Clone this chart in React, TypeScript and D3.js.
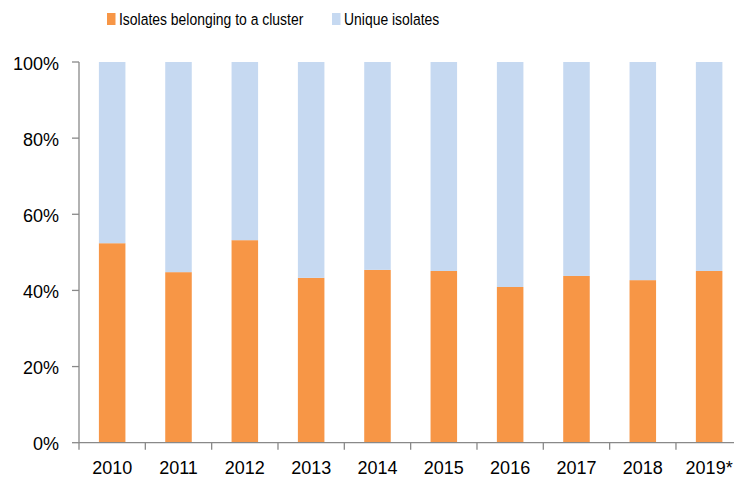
import React from "react";
import * as d3 from "d3";

// share of isolates per year (percent)
const years = ["2010", "2011", "2012", "2013", "2014", "2015", "2016", "2017", "2018", "2019*"];
const clustered = [52.4, 44.8, 53.2, 43.3, 45.4, 45.1, 40.9, 43.8, 42.7, 45.1];
const unique = clustered.map((v) => 100 - v);
const yTicks = [0, 20, 40, 60, 80, 100];
const seriesNames = ["Isolates belonging to a cluster", "Unique isolates"];
const colors = ["#F79646", "#C6D9F1"];

const W = 734;
const H = 478;
const margin = { top: 62, left: 79, bottom: 442.7 };
const font = "'Liberation Sans', Arial, sans-serif";
const squeeze = 0.82; // calibri-ish width for the legend text

export default function App() {
  const x = d3
    .scaleBand<string>()
    .domain(years)
    .range([margin.left, margin.left + 66.33 * years.length])
    .paddingInner(0.6)
    .paddingOuter(0.3);
  const y = d3.scaleLinear().domain([0, 100]).range([margin.bottom, margin.top]);

  const stacked = d3.stack<number>().keys(["a", "b"]).value((i, k) => (k === "a" ? clustered[i] : unique[i]))(
    d3.range(years.length)
  );

  const step = x.step();
  const axisColor = "#898989";

  return (
    <svg width={W} height={H} style={{ position: "absolute", left: 0, top: 0, background: "#fff" }} fontFamily={font}>
      {/* legend */}
      <g fontSize={17} fill="#000">
        <rect x={107} y={13} width={8.5} height={12} fill={colors[0]} />
        <text transform={`translate(119,25) scale(${squeeze},1)`}>{seriesNames[0]}</text>
        <rect x={332} y={13} width={8.5} height={12} fill={colors[1]} />
        <text transform={`translate(344,25) scale(${squeeze},1)`}>{seriesNames[1]}</text>
      </g>

      {/* bars */}
      {stacked.map((layer, li) => (
        <g key={li} fill={colors[li]}>
          {layer.map((d, i) => (
            <rect
              key={i}
              x={x(years[i])}
              y={y(d[1])}
              width={x.bandwidth()}
              height={y(d[0]) - y(d[1])}
            />
          ))}
        </g>
      ))}

      {/* y axis */}
      <line x1={margin.left} x2={margin.left} y1={y(100)} y2={y(0)} stroke={axisColor} strokeWidth={1.3} />
      {yTicks.map((t) => (
        <g key={t}>
          <line x1={margin.left - 7} x2={margin.left} y1={y(t)} y2={y(t)} stroke={axisColor} strokeWidth={1.3} />
          <text x={59} y={y(t) + 7.5} textAnchor="end" fontSize={18} fill="#000">
            {t}%
          </text>
        </g>
      ))}

      {/* x axis */}
      <line x1={margin.left} x2={margin.left + step * years.length} y1={y(0)} y2={y(0)} stroke={axisColor} strokeWidth={1.3} />
      {d3.range(years.length + 1).map((i) => (
        <line
          key={i}
          x1={margin.left + step * i}
          x2={margin.left + step * i}
          y1={y(0)}
          y2={y(0) + 7}
          stroke={axisColor}
          strokeWidth={1.3}
        />
      ))}
      {years.map((yr) => (
        <text key={yr} x={(x(yr) ?? 0) + x.bandwidth() / 2} y={474} textAnchor="middle" fontSize={18} fill="#000">
          {yr}
        </text>
      ))}
    </svg>
  );
}
